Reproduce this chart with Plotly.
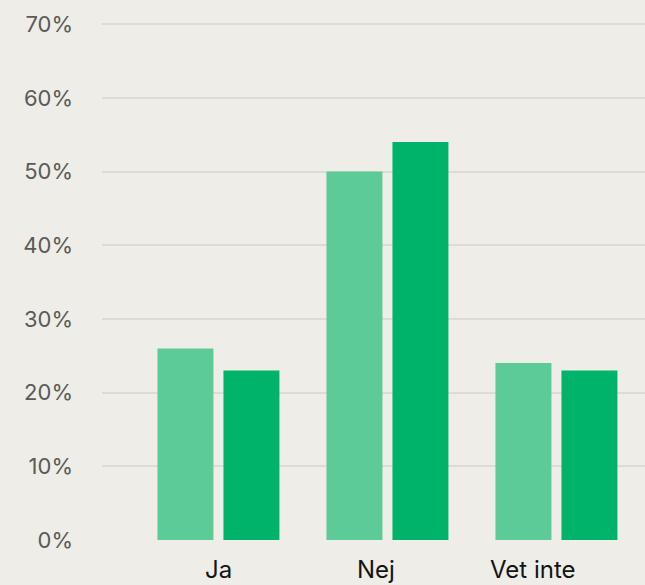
import plotly.graph_objects as go

categories = ["Ja", "Nej", "Vet inte"]
series_a = [26, 50, 24]
series_b = [23, 54, 23]
tick_vals = [0, 10, 20, 30, 40, 50, 60, 70]
tick_text = ["0%", "10%", "20%", "30%", "40%", "50%", "60%", "70%"]

# horizontal label offsets (pixels) for category labels, as in the reference
label_shift = [0, -11, -23]

fig = go.Figure()
fig.add_trace(go.Bar(x=categories, y=series_a, marker=dict(color="#5CCB98", line=dict(width=0)), name="A"))
fig.add_trace(go.Bar(x=categories, y=series_b, marker=dict(color="#00B36A", line=dict(width=0)), name="B"))

for cat, sh in zip(categories, label_shift):
    fig.add_annotation(
        x=cat, xref="x", y=0, yref="paper", yanchor="middle", xanchor="center",
        yshift=-29, xshift=sh, text=cat, showarrow=False,
        font=dict(family="Inter", size=24, color="#141414"),
    )

fig.update_layout(
    width=645, height=585,
    margin=dict(l=102, r=0, t=23, b=45),
    paper_bgcolor="#EEEDE7", plot_bgcolor="#EEEDE7",
    barmode="group", bargap=0.219, bargroupgap=0.152,
    showlegend=False,
    font=dict(family="Inter", size=20, color="#555555"),
)
fig.update_xaxes(
    range=[-0.689, 2.524], showgrid=False, zeroline=False, showline=False,
    showticklabels=False, ticks="",
)
fig.update_yaxes(
    range=[0, 70.15], tickvals=tick_vals, ticktext=tick_text, showgrid=True,
    gridcolor="#DDDBD6", gridwidth=2, zeroline=False, showline=False,
    tickfont=dict(color="#5A5A5A", size=22), ticklabelstandoff=28,
)
fig.write_html("out.html", config={"displayModeBar": False})

with open("out.html", "r", encoding="utf-8") as f:
    html = f.read()
html = html.replace("<body>", '<body style="margin:0;padding:0;background:#EEEDE7;overflow:hidden">', 1)
with open("out.html", "w", encoding="utf-8") as f:
    f.write(html)
